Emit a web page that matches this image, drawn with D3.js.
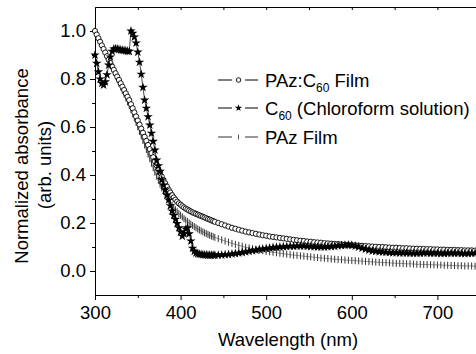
<!DOCTYPE html>
<html>
<head>
<meta charset="utf-8">
<script src="https://cdn.jsdelivr.net/npm/d3@7"></script>
<style>
  body { margin: 0; background: #fff; }
  svg { display: block; font-family: "Liberation Sans", Arial, sans-serif; }
  .axis text { font-size: 18.5px; fill: #000; }
  .axis path, .axis line { stroke: #000; }
</style>
</head>
<body>
<svg width="476" height="354"></svg>
<script>
// wavelength grid (nm): 2 nm steps through the steep part, 4 nm after
const wlFine = [300,302,304,306,308,310,312,314,316,318,320,322,324,326,328,330,332,334,336,338,340,
  342,344,346,348,350,352,354,356,358,360,362,364,366,368,370,372,374,376,378,380,382,384,386,388,390,
  392,394,396,398,400,402,404,406,408,410,412,414,416,418,420,422,424,426,428,430,432,434,436,438,440];
const wlCoarse = [444,448,452,456,460,464,468,472,476,480,484,488,492,496,500,504,508,512,516,520,
  524,528,532,536,540,544,548,552,556,560,564,568,572,576,580,584,588,592,596,600,
  604,608,612,616,620,624,628,632,636,640,644,648,652,656,660,664,668,672,676,680,
  684,688,692,696,700,704,708,712,716,720,724,728,732,736,740,744,748,752,756,760];

// PAz:C60 Film (open circles)
const blendFine = [1.000,0.985,0.970,0.955,0.940,0.925,0.910,0.895,0.880,0.866,0.852,0.838,0.824,0.810,0.796,0.782,0.768,0.754,0.740,0.726,0.712,
  0.695,0.678,0.661,0.644,0.627,0.610,0.593,0.576,0.559,0.542,0.525,0.508,0.491,0.474,0.457,0.440,0.424,0.409,0.394,0.379,
  0.365,0.352,0.339,0.327,0.316,0.306,0.297,0.289,0.282,0.276,0.270,0.265,0.260,0.256,0.252,0.248,0.244,0.241,0.238,0.235,
  0.232,0.229,0.226,0.223,0.220,0.217,0.214,0.211,0.208,0.205];
const blendCoarse = [0.200,0.195,0.190,0.185,0.180,0.176,0.172,0.168,0.164,0.161,
  0.158,0.155,0.152,0.149,0.147,0.144,0.142,0.140,0.138,0.136,
  0.134,0.132,0.130,0.128,0.126,0.125,0.123,0.122,0.120,0.119,
  0.118,0.116,0.115,0.114,0.113,0.112,0.111,0.110,0.109,0.108,
  0.107,0.106,0.105,0.104,0.103,0.102,0.101,0.100,0.100,0.099,
  0.098,0.097,0.097,0.096,0.095,0.095,0.094,0.093,0.093,0.092,
  0.092,0.091,0.091,0.090,0.090,0.089,0.089,0.088,0.088,0.088,
  0.087,0.087,0.086,0.086,0.086,0.085,0.085,0.085,0.084,0.084];

// C60 chloroform solution (stars)
const c60Fine = [0.900,0.865,0.830,0.800,0.782,0.775,0.788,0.818,0.858,0.892,0.915,0.925,0.926,0.925,0.923,0.921,0.920,0.919,0.918,0.916,0.915,
  1.000,0.990,0.975,0.950,0.912,0.870,0.820,0.765,0.712,0.678,0.643,0.608,0.574,0.540,0.504,0.462,0.438,0.415,0.380,0.358,
  0.338,0.316,0.296,0.272,0.250,0.232,0.215,0.198,0.180,0.163,0.145,0.155,0.175,0.180,0.155,0.125,0.095,0.082,0.075,0.072,
  0.070,0.069,0.068,0.067,0.067,0.066,0.066,0.066,0.066,0.066];
const c60Coarse = [0.066,0.067,0.068,0.069,0.071,0.073,0.075,0.077,0.080,0.082,
  0.085,0.087,0.090,0.092,0.094,0.096,0.098,0.099,0.100,0.101,
  0.102,0.103,0.103,0.104,0.104,0.104,0.103,0.102,0.101,0.100,
  0.100,0.100,0.101,0.102,0.103,0.105,0.106,0.107,0.108,0.107,
  0.104,0.100,0.095,0.091,0.087,0.084,0.082,0.080,0.079,0.078,
  0.077,0.076,0.076,0.075,0.075,0.075,0.074,0.074,0.074,0.074,
  0.075,0.075,0.074,0.074,0.074,0.073,0.073,0.074,0.074,0.074,
  0.074,0.073,0.073,0.073,0.074,0.074,0.073,0.073,0.073,0.073];

// PAz Film (vertical bars)
const pazFine = [1.000,0.984,0.968,0.952,0.936,0.920,0.904,0.888,0.872,0.857,0.842,0.827,0.812,0.797,0.782,0.767,0.752,0.737,0.721,0.705,0.689,
  0.672,0.655,0.637,0.619,0.601,0.582,0.563,0.544,0.525,0.506,0.487,0.468,0.449,0.430,0.412,0.395,0.378,0.362,0.346,0.332,
  0.319,0.307,0.295,0.284,0.274,0.264,0.255,0.247,0.239,0.232,0.225,0.218,0.212,0.206,0.200,0.195,0.190,0.185,0.180,0.175,
  0.171,0.167,0.163,0.159,0.156,0.152,0.149,0.146,0.143,0.140];
const pazCoarse = [0.135,0.130,0.125,0.120,0.115,0.111,0.107,0.103,0.099,0.096,
  0.093,0.090,0.087,0.085,0.082,0.080,0.078,0.076,0.074,0.072,
  0.070,0.068,0.066,0.065,0.063,0.062,0.060,0.059,0.057,0.056,
  0.054,0.053,0.052,0.050,0.049,0.048,0.047,0.046,0.045,0.044,
  0.043,0.042,0.041,0.040,0.039,0.038,0.037,0.036,0.035,0.035,
  0.034,0.033,0.032,0.032,0.031,0.030,0.030,0.029,0.028,0.028,
  0.027,0.027,0.026,0.026,0.025,0.025,0.024,0.024,0.023,0.023,
  0.022,0.022,0.021,0.021,0.021,0.020,0.020,0.020,0.019,0.019];

const xTicks = [300, 400, 500, 600, 700];
const yTicks = [0.0, 0.2, 0.4, 0.6, 0.8, 1.0];

const svg = d3.select("svg");
const frame = { left: 95, top: 7, bottom: 295, right: 523 };

const xScale = d3.scaleLinear().domain([300, 800]).range([frame.left, frame.right]);
const yScale = d3.scaleLinear().domain([-0.1, 1.1]).range([frame.bottom, frame.top]);

const wl = wlFine.concat(wlCoarse);
const toPoints = (fine, coarse) => fine.concat(coarse).map((v, i) => ({ w: wl[i], v: v }));

const blend = toPoints(blendFine, blendCoarse);
const c60 = toPoints(c60Fine, c60Coarse);
const paz = toPoints(pazFine, pazCoarse);

// axes
const minorX = [350, 450, 550, 650, 750];
const minorY = [0.1, 0.3, 0.5, 0.7, 0.9];

svg.append("g")
  .attr("class", "axis")
  .attr("transform", `translate(0, ${frame.bottom})`)
  .call(d3.axisBottom(xScale).tickValues(xTicks).tickSize(5).tickSizeOuter(0).tickPadding(6));
svg.append("g")
  .attr("class", "axis")
  .attr("transform", `translate(0, ${frame.bottom})`)
  .call(d3.axisBottom(xScale).tickValues(minorX).tickSize(3).tickSizeOuter(0).tickFormat(""));

svg.append("g")
  .attr("class", "axis")
  .attr("transform", `translate(${frame.left}, 0)`)
  .call(d3.axisLeft(yScale).tickValues(yTicks).tickSize(5).tickSizeOuter(0).tickPadding(4).tickFormat(d3.format(".1f")));
svg.append("g")
  .attr("class", "axis")
  .attr("transform", `translate(${frame.left}, 0)`)
  .call(d3.axisLeft(yScale).tickValues(minorY).tickSize(3).tickSizeOuter(0).tickFormat(""));

// top frame with inward ticks
svg.append("g")
  .attr("class", "axis")
  .attr("transform", `translate(0, ${frame.top})`)
  .call(d3.axisTop(xScale).tickValues([350, 400, 450, 500, 550, 600, 650, 700, 750]).tickSize(-3).tickSizeOuter(0).tickFormat(""));

// axis titles
svg.append("text")
  .attr("x", 288)
  .attr("y", 346)
  .attr("text-anchor", "middle")
  .attr("font-size", 18.5)
  .text("Wavelength (nm)");

const yTitle = svg.append("text")
  .attr("transform", "rotate(-90)")
  .attr("text-anchor", "middle")
  .attr("font-size", 18.5);
yTitle.append("tspan").attr("x", -166).attr("y", 28).text("Normalized absorbance");
yTitle.append("tspan").attr("x", -165).attr("y", 51).text("(arb. units)");

// series
const line = d3.line().x((d) => xScale(d.w)).y((d) => yScale(d.v));
const plot = svg.append("g");

// PAz Film
plot.append("path")
  .attr("d", line(paz))
  .attr("fill", "none")
  .attr("stroke", "#555")
  .attr("stroke-width", 0.6);
plot.selectAll(".bar")
  .data(paz)
  .enter()
  .append("line")
  .attr("x1", (d) => xScale(d.w))
  .attr("x2", (d) => xScale(d.w))
  .attr("y1", (d) => yScale(d.v) - 3.5)
  .attr("y2", (d) => yScale(d.v) + 3.5)
  .attr("stroke", "#333")
  .attr("stroke-width", 1);

// PAz:C60 Film
plot.append("path")
  .attr("d", line(blend))
  .attr("fill", "none")
  .attr("stroke", "#000")
  .attr("stroke-width", 0.6);
plot.selectAll(".ring")
  .data(blend)
  .enter()
  .append("circle")
  .attr("cx", (d) => xScale(d.w))
  .attr("cy", (d) => yScale(d.v))
  .attr("r", 2.6)
  .attr("fill", "#fff")
  .attr("stroke", "#000")
  .attr("stroke-width", 0.9);

// C60 solution
const star = d3.symbol().type(d3.symbolStar).size(28);
plot.append("path")
  .attr("d", line(c60))
  .attr("fill", "none")
  .attr("stroke", "#000")
  .attr("stroke-width", 0.7);
plot.selectAll(".star")
  .data(c60)
  .enter()
  .append("path")
  .attr("d", star)
  .attr("transform", (d) => `translate(${xScale(d.w)}, ${yScale(d.v)})`)
  .attr("fill", "#000");

// legend
const legendRows = [
  { y: 80, kind: "circle", main: "PAz:C", sub: "60", rest: " Film" },
  { y: 108, kind: "star", main: "C", sub: "60", rest: " (Chloroform solution)" },
  { y: 137, kind: "bar", main: "PAz Film", sub: "", rest: "" }
];

const legend = svg.selectAll("g.legend")
  .data(legendRows)
  .enter()
  .append("g")
  .attr("class", "legend")
  .attr("transform", (d) => `translate(0, ${d.y})`);

legend.append("line").attr("x1", 218).attr("x2", 232).attr("stroke", (d) => d.kind === "bar" ? "#333" : "#000").attr("stroke-width", 1);
legend.append("line").attr("x1", 245).attr("x2", 258).attr("stroke", (d) => d.kind === "bar" ? "#333" : "#000").attr("stroke-width", 1);

legend.filter((d) => d.kind === "circle")
  .append("circle").attr("cx", 238.5).attr("r", 2.3).attr("fill", "#fff").attr("stroke", "#000").attr("stroke-width", 0.9);
legend.filter((d) => d.kind === "star")
  .append("path").attr("d", d3.symbol().type(d3.symbolStar).size(16)).attr("transform", "translate(238.5, 0)").attr("fill", "#000");
legend.filter((d) => d.kind === "bar")
  .append("line").attr("x1", 238.5).attr("x2", 238.5).attr("y1", -2.5).attr("y2", 2.5).attr("stroke", "#555").attr("stroke-width", 1);

const legendText = legend.append("text")
  .attr("x", 265)
  .attr("y", 6.5)
  .attr("font-size", 18.5);
legendText.append("tspan").text((d) => d.main);
legendText.append("tspan").attr("font-size", 12).attr("dy", 5).text((d) => d.sub);
legendText.append("tspan").attr("dy", (d) => d.sub ? -5 : 0).text((d) => d.rest);
</script>
</body>
</html>
